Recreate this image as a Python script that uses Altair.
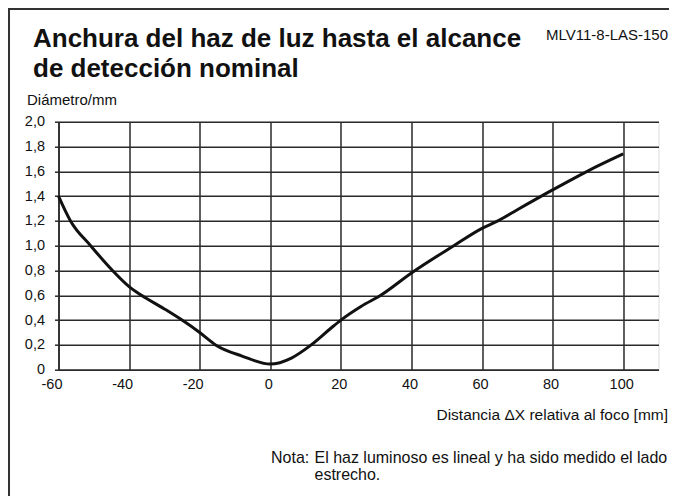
import altair as alt
import pandas as pd

# Curve
dist_mm = [-60, -56.6, -50.9, -44.7, -40, -36.5, -30, -25, -20, -15.5, -8, 0, 6, 11.6, 17, 20,
           25.7, 31.3, 40, 52, 60, 64.5, 70, 80, 89.8, 100]
diam_mm = [1.40, 1.20, 1.00, 0.80, 0.67, 0.60, 0.49, 0.40, 0.30, 0.20, 0.11, 0.045, 0.094, 0.20, 0.33, 0.40,
           0.51, 0.60, 0.78, 1.00, 1.14, 1.20, 1.29, 1.45, 1.60, 1.74]

x_ticks = [-60, -40, -20, 0, 20, 40, 60, 80, 100]
y_ticks = [0, 0.2, 0.4, 0.6, 0.8, 1.0, 1.2, 1.4, 1.6, 1.8, 2.0]

title_lines = ["Anchura del haz de luz hasta el alcance", "de detección nominal"]
model = "MLV11-8-LAS-150"
y_title = "Diámetro/mm"
x_title = "Distancia ΔX  relativa al foco [mm]"
note_head = "Nota:"
note_lines = ["El haz luminoso es lineal y ha sido medido el lado", "estrecho."]

df = pd.DataFrame({"x": dist_mm, "y": diam_mm})
one = pd.DataFrame({"k": [0]})

FONT = "Liberation Sans"
GRID = "#2a2a2a"

xscale = alt.Scale(domain=[-60, 110], nice=False, zero=False)
yscale = alt.Scale(domain=[0, 2], nice=False)

curve = alt.Chart(df).mark_line(color="#111111", strokeWidth=3, interpolate="monotone").encode(
    x=alt.X("x:Q", scale=xscale,
            axis=alt.Axis(values=x_ticks, grid=True, gridColor=GRID, gridWidth=1.5, gridOpacity=1,
                          ticks=False, domain=True, domainColor=GRID, domainWidth=1.5,
                          labelFontSize=14.5, labelFont=FONT, labelColor="#111", labelPadding=8,
                          labelFlush=False,
                          labelOffset=alt.condition("datum.value < 0", alt.value(-7), alt.value(-2)),
                          labelExpr="datum.value < 0 ? '-' + format(-datum.value, 'd') : format(datum.value, 'd')",
                          title=None)),
    y=alt.Y("y:Q", scale=yscale,
            axis=alt.Axis(values=y_ticks, grid=True, gridColor=GRID, gridWidth=1.5, gridOpacity=1,
                          ticks=True, tickSize=4, tickColor=GRID, tickWidth=1.5,
                          domain=True, domainColor=GRID, domainWidth=1.5,
                          labelFontSize=14.5, labelFont=FONT, labelColor="#111", labelPadding=10,
                          labelExpr="datum.value == 0 ? '0' : replace(format(datum.value, '.1f'), '.', ',')",
                          title=None)),
)

def txt(s, x, y, size, weight="normal", align="left"):
    return alt.Chart(one).mark_text(text=s, font=FONT, fontSize=size, fontWeight=weight, align=align,
                                    baseline="alphabetic", color="#111").encode(
        x=alt.value(x), y=alt.value(y))

RIGHT = 609.5  # right edge of the drawing, relative to the plot's left side

texts = [
    txt(title_lines[0], -25.5, -74.7, 26, "bold"),
    txt(title_lines[1], -25.5, -44.2, 26, "bold"),
    txt(model, RIGHT, -81.2, 15, align="right"),
    txt(y_title, -31.5, -16.7, 15),
    txt(x_title, RIGHT, 298, 15.5, align="right"),
    txt(note_head, 212.5, 341, 16),
    txt(note_lines[0], 256, 341, 16),
    txt(note_lines[1], 256, 358, 16),
]

top_border = alt.Chart(one).mark_rule(color="#333", strokeWidth=2).encode(
    x=alt.value(-50.5), x2=alt.value(700), y=alt.value(-112.7))
left_border = alt.Chart(one).mark_rule(color="#333", strokeWidth=2).encode(
    x=alt.value(-49.5), y=alt.value(-113.7), y2=alt.value(420))

chart = alt.layer(curve, top_border, left_border, *texts).properties(
    width=600, height=248,
    autosize=alt.AutoSizeParams(type="none"),
    padding={"left": 50.5, "top": 113.7, "right": 10.5, "bottom": 126},
).configure_view(stroke=GRID, strokeWidth=1.5).configure(background="white")

chart.save("out.html", embed_options={"renderer": "svg", "actions": False})
